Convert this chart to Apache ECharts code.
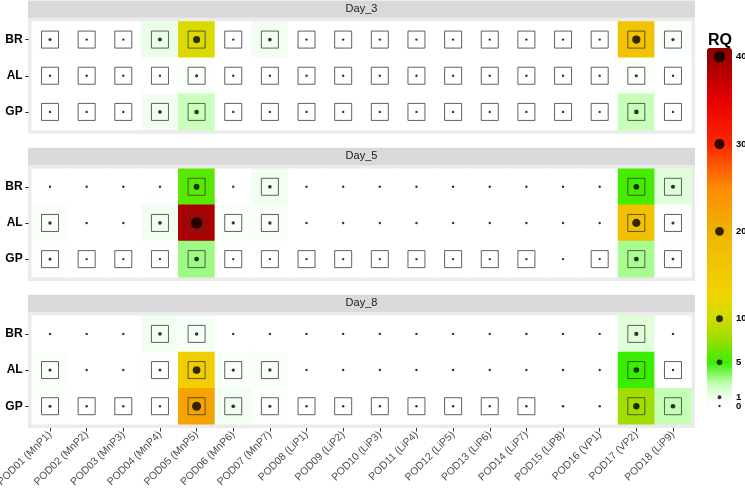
<!DOCTYPE html>
<html>
<head>
<meta charset="utf-8">
<script src="https://cdn.jsdelivr.net/npm/echarts@6/dist/echarts.min.js"></script>
<style>
  html, body { margin: 0; padding: 0; background: #fff; }
  #chart { width: 745px; height: 490px; }
</style>
</head>
<body>
<div id="chart"></div>
<script>
// categorias
var pods = ['POD01 (MnP1)', 'POD02 (MnP2)', 'POD03 (MnP3)', 'POD04 (MnP4)', 'POD05 (MnP5)',
    'POD06 (MnP6)', 'POD07 (MnP7)', 'POD08 (LiP1)', 'POD09 (LiP2)', 'POD10 (LiP3)',
    'POD11 (LiP4)', 'POD12 (LiP5)', 'POD13 (LiP6)', 'POD14 (LiP7)', 'POD15 (LiP8)',
    'POD16 (VP1)', 'POD17 (VP2)', 'POD18 (LiP9)'];
var sites = ['BR', 'AL', 'GP'];
var days = ['Day_3', 'Day_5', 'Day_8'];

// valores RQ por dia (filas BR, AL, GP)
var rqDay3 = [
    [0.2, 0, 0, 1.2, 11, 0, 0.8, 0, 0, 0, 0, 0, 0, 0, 0, 0, 16.5, 0.4],
    [0, 0, 0, 0, 0.3, 0, 0, 0, 0, 0, 0, 0, 0, 0, 0, 0, 0.3, 0],
    [0, 0, 0, 0.8, 2.3, 0, 0, 0, 0, 0, 0, 0, 0, 0, 0, 0, 2.4, 0]
];
var rqDay5 = [
    [0, 0, 0, 0, 5.8, 0, 0.8, 0, 0, 0, 0, 0, 0, 0, 0, 0, 5.3, 1.5],
    [0.5, 0, 0, 0.8, 39, 0.4, 0.5, 0, 0, 0, 0, 0, 0, 0, 0, 0, 17, 0.2],
    [0.2, 0, 0, 0, 3.2, 0, 0, 0, 0, 0, 0, 0, 0, 0, 0, 0, 3, 0.1]
];
var rqDay8 = [
    [0, 0, 0, 0.8, 0.6, 0, 0, 0, 0, 0, 0, 0, 0, 0, 0, 0, 1.5, 0],
    [0.3, 0, 0, 0.2, 14, 0.4, 0.5, 0, 0, 0, 0, 0, 0, 0, 0, 0, 5, 0],
    [0.2, 0, 0, 0, 22, 0.8, 0.2, 0, 0, 0, 0, 0, 0, 0, 0, 0, 7.8, 2.5]
];

// celdas con recuadro (1 = si)
var boxDay3 = [
    [1, 1, 1, 1, 1, 1, 1, 1, 1, 1, 1, 1, 1, 1, 1, 1, 1, 1],
    [1, 1, 1, 1, 1, 1, 1, 1, 1, 1, 1, 1, 1, 1, 1, 1, 1, 1],
    [1, 1, 1, 1, 1, 1, 1, 1, 1, 1, 1, 1, 1, 1, 1, 1, 1, 1]
];
var boxDay5 = [
    [0, 0, 0, 0, 1, 0, 1, 0, 0, 0, 0, 0, 0, 0, 0, 0, 1, 1],
    [1, 0, 0, 1, 1, 1, 1, 0, 0, 0, 0, 0, 0, 0, 0, 0, 1, 1],
    [1, 1, 1, 1, 1, 1, 1, 1, 1, 1, 1, 1, 1, 1, 0, 1, 1, 1]
];
var boxDay8 = [
    [0, 0, 0, 1, 1, 0, 0, 0, 0, 0, 0, 0, 0, 0, 0, 0, 1, 0],
    [1, 0, 0, 1, 1, 1, 1, 0, 0, 0, 0, 0, 0, 0, 0, 0, 1, 1],
    [1, 1, 1, 1, 1, 1, 1, 1, 1, 1, 1, 1, 1, 1, 0, 0, 1, 1]
];

// leyenda
var legendTicks = [0, 5, 10, 20, 30, 40];
var legendTicksExtra = [1];
var legendDots = [0, 1, 5, 10, 20, 30, 40];
var rqMax = 41;
var stopValues = [0, 1, 2.5, 5, 7.5, 10, 13, 20, 25, 30, 35, 41];
var stopColors = ['#ffffff', '#effeef', '#c4ffb4', '#3aee00', '#99dd00', '#cfdc00',
    '#f3d300', '#efb300', '#ff8a00', '#ff2600', '#e80000', '#8b0000'];

var rqData = [rqDay3, rqDay5, rqDay8];
var boxData = [boxDay3, boxDay5, boxDay8];

function hexRgb(h) {
    return [parseInt(h.substr(1, 2), 16), parseInt(h.substr(3, 2), 16), parseInt(h.substr(5, 2), 16)];
}
function colorAt(v) {
    for (var i = 0; i < stopValues.length - 1; i++) {
        if (v <= stopValues[i + 1]) {
            var t = (v - stopValues[i]) / (stopValues[i + 1] - stopValues[i]);
            var a = hexRgb(stopColors[i]), b = hexRgb(stopColors[i + 1]);
            return 'rgb(' + a.map(function (c, k) { return Math.round(c + (b[k] - c) * t); }).join(',') + ')';
        }
    }
    return stopColors[stopColors.length - 1];
}
var gradient = [];
for (var g = 0; g <= rqMax * 2; g++) gradient.push(colorAt(g / 2));

function dotSize(v) { return 2.4 + 1.42 * Math.sqrt(v); }

var chart = echarts.init(document.getElementById('chart'));

var gridTops = [21.5, 168.7, 315.8];
var gridH = 108.5, gridL = 31.7, gridW = 659.6;

var grids = [], xAxes = [], yAxes = [], heatSeries = [], boxSeries = [], dotSeries = [], graphics = [];

gridTops.forEach(function (top, i) {
    grids.push({ left: gridL, top: top, width: gridW, height: gridH, outerBoundsMode: 'none', containLabel: false });
    var last = i === gridTops.length - 1;
    xAxes.push({
        gridIndex: i, type: 'category', data: pods, offset: 3.7,
        axisLine: { show: false },
        axisTick: { show: last, length: 3.5, alignWithLabel: true, lineStyle: { color: '#333' } },
        axisLabel: { show: last, rotate: 45, fontSize: 10.5, color: '#4d4d4d', margin: 5, interval: 0 },
        splitLine: { show: false }
    });
    yAxes.push({
        gridIndex: i, type: 'category', data: sites, inverse: true, offset: 3,
        axisLine: { show: false },
        axisTick: { show: true, length: 3.5, alignWithLabel: true, lineStyle: { color: '#333' } },
        axisLabel: { fontSize: 12, fontWeight: 'bold', color: '#000', margin: 6 }
    });

    var heat = [], dots = [], boxes = [];
    rqData[i].forEach(function (row, r) {
        row.forEach(function (v, c) {
            heat.push([c, r, v]);
            dots.push([c, r, v]);
            if (boxData[i][r][c]) boxes.push([c, r]);
        });
    });
    heatSeries.push({
        type: 'heatmap', xAxisIndex: i, yAxisIndex: i, data: heat,
        emphasis: { disabled: true }, silent: true
    });
    boxSeries.push({
        type: 'scatter', xAxisIndex: i, yAxisIndex: i, data: boxes, symbol: 'rect', symbolSize: 17,
        itemStyle: { color: 'rgba(0,0,0,0)', borderColor: '#3a3a3a', borderWidth: 1 },
        z: 5, silent: true
    });
    dotSeries.push({
        type: 'scatter', xAxisIndex: i, yAxisIndex: i, data: dots,
        symbolSize: function (d) { return dotSize(d[2]); },
        itemStyle: { color: '#000' }, z: 6, silent: true
    });

    // fondo del panel y tira
    graphics.push({
        type: 'rect', z: -10, silent: true,
        shape: { x: gridL - 3.7, y: top - 3.7, width: gridW + 7.4, height: gridH + 7.4 },
        style: { fill: '#ebebeb' }
    });
    graphics.push({
        type: 'rect', z: -10, silent: true,
        shape: { x: gridL - 3.7, y: top - 3.7 - 17.3, width: gridW + 7.4, height: 17.3 },
        style: { fill: '#d9d9d9' }
    });
    graphics.push({
        type: 'text', z: -9, silent: true,
        x: gridL + gridW / 2, y: top - 3.7 - 17.3 / 2,
        style: { text: days[i], fill: '#1a1a1a', font: '11px "Liberation Sans"', align: 'center', verticalAlign: 'middle' }
    });
});

// rejilla de la leyenda
var legTop = 48, legH = 358, legLeft = 707, legW = 25;
grids.push({ left: legLeft, top: legTop, width: legW, height: legH, outerBoundsMode: 'none', containLabel: false });
xAxes.push({ gridIndex: 3, type: 'value', min: 0, max: 1, show: false });
[legendTicks, legendTicksExtra].forEach(function (ticks) {
    yAxes.push({
        gridIndex: 3, type: 'value', min: 0, max: rqMax, position: 'right', z: 10,
        axisLine: { show: false },
        axisTick: { show: true, inside: true, length: 5, customValues: ticks, lineStyle: { color: '#fff' } },
        axisLabel: {
            customValues: ticks, fontSize: 9.5, fontWeight: 'bold', color: '#000', margin: 4,
            hideOverlap: false, showMinLabel: true, showMaxLabel: true
        },
        splitLine: { show: false }
    });
});

var option = {
    animation: false,
    textStyle: { fontFamily: 'Liberation Sans' },
    title: { text: 'RQ', left: 703, top: 28, textStyle: { fontSize: 16, fontWeight: 'bold', color: '#000' } },
    grid: grids,
    xAxis: xAxes,
    yAxis: yAxes,
    visualMap: {
        type: 'continuous', min: 0, max: rqMax, calculable: false, orient: 'vertical',
        left: legLeft, top: legTop, itemWidth: legW, itemHeight: legH, padding: 0,
        text: null, showLabel: false, hoverLink: false,
        seriesIndex: [0, 1, 2],
        inRange: { color: gradient }
    },
    graphic: graphics,
    series: heatSeries.concat(boxSeries, dotSeries, [{
        type: 'scatter', xAxisIndex: 3, yAxisIndex: 3, z: 10, silent: true,
        data: legendDots.map(function (v) { return [0.5, v]; }),
        symbolSize: function (d) { return dotSize(d[1]); },
        itemStyle: { color: '#000' }
    }])
};

chart.setOption(option);
</script>
</body>
</html>
